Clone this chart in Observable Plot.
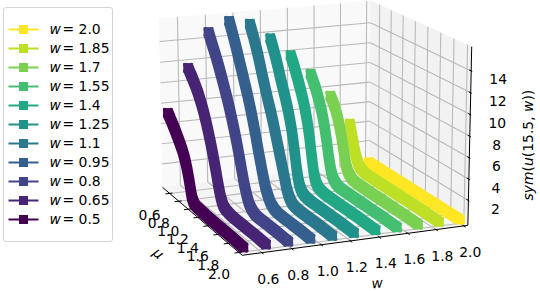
<!DOCTYPE html>
<html><head><meta charset="utf-8">
<script src="https://cdn.jsdelivr.net/npm/d3@7"></script>
<script src="https://cdn.jsdelivr.net/npm/@observablehq/plot@0.6"></script>
<style>
html,body{margin:0;padding:0;background:#fff;overflow:hidden}
#wrap{position:relative;width:540px;height:291px}
#chart{position:absolute;left:0;top:0}
#legend{position:absolute;left:3px;top:7px;width:108px;height:233px;border:1px solid #d5d5d5;border-radius:3px;background:#fff}
svg{display:block;font-family:"DejaVu Sans"}
</style></head><body>
<div id="wrap"><div id="chart"></div><div id="legend"></div></div>
<script>
const uValues=[0.5,0.55,0.6,0.65,0.7,0.75,0.8,0.85,0.9,0.95,1.0,1.05,1.1,1.15,1.2,1.25,1.3,1.4,1.6,1.8,2.0];
const wValues=[2.0,1.85,1.7,1.55,1.4,1.25,1.1,0.95,0.8,0.65,0.5];
const wLabels=["2.0","1.85","1.7","1.55","1.4","1.25","1.1","0.95","0.8","0.65","0.5"];
const colors=["#fde725","#bddf26","#7ad151","#44bf70","#22a884","#21918c","#2a788e","#355f8d","#414487","#482475","#440154"];
const z200=[0,0,0,0,0,0,0,0,0,0,0,0,0,0,0,0,0,0,0,0,0];
const z185=[4.2,2.9,1.6,0.75,0.35,0.2,0.12,0.1,0.1,0.1,0.1,0.1,0.1,0.1,0.1,0.1,0.1,0.1,0.1,0.1,0.05];
const z170=[7.25,6.75,6.1,5.2,4.0,2.5,1.1,0.5,0.25,0.15,0.1,0.1,0.1,0.1,0.1,0.1,0.1,0.1,0.1,0.1,0.05];
const z155=[9.65,9.05,8.4,7.6,6.7,5.5,3.9,2.1,0.9,0.4,0.2,0.12,0.1,0.1,0.1,0.1,0.1,0.1,0.1,0.1,0.05];
const z140=[11.7,11.05,10.3,9.5,8.65,7.7,6.5,4.9,2.8,1.1,0.45,0.22,0.15,0.1,0.1,0.1,0.1,0.1,0.1,0.1,0.05];
const z125=[13.55,12.8,12.0,11.1,10.1,9.2,8.25,7.2,5.9,4.2,2.2,0.9,0.4,0.2,0.15,0.1,0.1,0.1,0.1,0.1,0.05];
const z110=[15.15,14.4,13.6,12.7,11.7,10.65,9.65,8.7,7.8,6.8,5.7,4.6,3.5,2.4,1.3,0.65,0.3,0.12,0.1,0.1,0.05];
const z095=[15.6,14.85,14.05,13.2,12.3,11.4,10.5,9.6,8.6,7.5,6.3,5.0,3.8,2.6,1.6,0.95,0.5,0.15,0.1,0.1,0.05];
const z080=[14.7,14.05,13.4,12.75,12.05,11.3,10.5,9.7,8.85,7.9,6.9,5.8,4.6,3.3,2.1,1.2,0.6,0.15,0.1,0.1,0.05];
const z065=[11.4,11.0,10.6,10.15,9.65,9.05,8.4,7.6,6.7,5.7,4.6,3.4,2.1,1.05,0.45,0.25,0.18,0.1,0.1,0.1,0.05];
const z050=[7.2,6.85,6.45,6.05,5.6,5.15,4.65,4.0,3.1,1.9,0.65,0.25,0.18,0.15,0.15,0.12,0.1,0.1,0.1,0.1,0.05];
const zSeries=[z200,z185,z170,z155,z140,z125,z110,z095,z080,z065,z050];
const uTicks=[0.6,0.8,1.0,1.2,1.4,1.6,1.8,2.0];
const wTicks=[0.6,0.8,1.0,1.2,1.4,1.6,1.8,2.0];
const zTicks=[2,4,6,8,10,12,14];
const uLim=[0.44,2.06], wLim=[0.47,2.03], zLim=[-0.35,16.2];
const elev=15, azim=-22.5, dist=10, zoomK=1985, cx=310, cy=119.5;
const W=540,H=291;

const ea=elev*Math.PI/180, aa=azim*Math.PI/180;
const box=[1.19,1.19,0.905];
const vw=[Math.cos(ea)*Math.cos(aa),Math.cos(ea)*Math.sin(aa),Math.sin(ea)];
const vu=[-Math.sin(aa),Math.cos(aa),0];
const vv=[-Math.sin(ea)*Math.cos(aa),-Math.sin(ea)*Math.sin(aa),Math.cos(ea)];
const dot3=(a,b)=>a[0]*b[0]+a[1]*b[1]+a[2]*b[2];
function project(u,w,z){
  const p=[(u-uLim[0])/(uLim[1]-uLim[0])*box[0]-box[0]/2,
           (w-wLim[0])/(wLim[1]-wLim[0])*box[1]-box[1]/2,
           (z-zLim[0])/(zLim[1]-zLim[0])*box[2]-box[2]/2];
  const depth=dist-dot3(p,vw);
  return [dot3(p,vu)/depth,dot3(p,vv)/depth];
}
const PX=d=>project(d[0],d[1],d[2])[0], PY=d=>project(d[0],d[1],d[2])[1];
const seg=(a,b)=>({a,b});
const [u0,u1]=uLim,[w0,w1]=wLim,[z0,z1]=zLim;

const panes=[
 {fill:"#f9f9f9",pts:[[u0,w0,z0],[u0,w1,z0],[u0,w1,z1],[u0,w0,z1]]},
 {fill:"#f2f2f2",pts:[[u0,w1,z0],[u1,w1,z0],[u1,w1,z1],[u0,w1,z1]]},
 {fill:"#f5f5f5",pts:[[u0,w0,z0],[u1,w0,z0],[u1,w1,z0],[u0,w1,z0]]}
];
const grid=[
 ...wTicks.map(w=>seg([u0,w,z0],[u0,w,z1])),
 ...wTicks.map(w=>seg([u0,w,z0],[u1,w,z0])),
 ...uTicks.map(u=>seg([u,w0,z0],[u,w1,z0])),
 ...uTicks.map(u=>seg([u,w1,z0],[u,w1,z1])),
 ...zTicks.map(z=>seg([u0,w0,z],[u0,w1,z])),
 ...zTicks.map(z=>seg([u0,w1,z],[u1,w1,z]))
];
const axes=[seg([u0,w0,z0],[u1,w0,z0]),seg([u1,w0,z0],[u1,w1,z0]),seg([u1,w1,z0],[u1,w1,z1])];
const tickMarks=[
 ...uTicks.map(u=>seg([u,w0+0.02,z0],[u,w0-0.03,z0])),
 ...wTicks.map(w=>seg([u1-0.02,w,z0],[u1+0.03,w,z0])),
 ...zTicks.map(z=>seg([u1-0.03,w1,z],[u1+0.015,w1,z]))
];
const link=(data,o)=>Plot.link(data,{x1:d=>PX(d.a),y1:d=>PY(d.a),x2:d=>PX(d.b),y2:d=>PY(d.b),...o});
const offsets=[[0,0,6.6],[-3,-3,4],[3,-3,4],[-3,3,4],[3,3,4]];
const ribbons=wValues.flatMap((w,i)=>{
  const rows=uValues.map((u,j)=>[u,w,zSeries[i][j]]);
  return [
    ...offsets.map(([dx,dy,sw])=>Plot.line(rows,{x:PX,y:PY,stroke:colors[i],strokeWidth:sw,dx,dy,curve:"catmull-rom",strokeLinecap:"round",strokeLinejoin:"round"})),
    Plot.dot([rows[0],rows[rows.length-1]],{x:PX,y:PY,symbol:"square",r:5.4,fill:colors[i],stroke:"none"})
  ];
});
const zAt=z=>[u1,w1,z], uAt=u=>[u,w0,z0], wAt=w=>[u1,w,z0];
const tl=(ticks,fn,dx,dy)=>Plot.text(ticks,{x:d=>PX(fn(d)),y:d=>PY(fn(d)),text:d=>fn===zAt?String(d):d.toFixed(1),dx,dy,fontSize:13.9,fill:"#000",textAnchor:"middle"});
const zLabel="sym(u(15.5, w))";
const chart=Plot.plot({
  width:W,height:H,margin:0,
  x:{axis:null,domain:[(0-cx)/zoomK,(W-cx)/zoomK],range:[0,W]},
  y:{axis:null,domain:[cy/zoomK,(cy-H)/zoomK],range:[0,H]},
  style:{background:"transparent",fontFamily:"DejaVu Sans"},
  marks:[
    ...panes.map(p=>Plot.line([...p.pts,p.pts[0]],{x:PX,y:PY,fill:p.fill,stroke:p.fill,strokeWidth:0.5})),
    link(grid,{stroke:"#b9b9b9",strokeWidth:1.1}),
    link(axes,{stroke:"#000",strokeWidth:1}),
    link(tickMarks,{stroke:"#000",strokeWidth:1}),
    ...ribbons,
    tl(uTicks,uAt,-20,22.5),
    tl(wTicks,wAt,6.5,26.5),
    tl(zTicks,zAt,27,9),
    Plot.text(["μ"],{x:()=>PX([(u0+u1)/2,w0,z0]),y:()=>PY([(u0+u1)/2,w0,z0]),dx:-42,dy:34,rotate:41,fontSize:13.9,fontStyle:"italic",fill:"#000"}),
    Plot.text(["w"],{x:()=>PX([u1,(w0+w1)/2,z0]),y:()=>PY([u1,(w0+w1)/2,z0]),dx:19.5,dy:43.5,rotate:-6,fontSize:13.9,fontStyle:"italic",fill:"#000"}),
    Plot.text([zLabel],{x:()=>PX([u1,w1,(z0+z1)/2]),y:()=>PY([u1,w1,(z0+z1)/2]),dx:59,dy:8,rotate:-90,fontSize:13.9,fill:"#000"})
  ]
});
d3.select(chart).selectAll("text").filter(function(){return this.textContent===zLabel;})
  .html('<tspan font-style="italic">sym</tspan>(<tspan font-style="italic">u</tspan>(15.5, <tspan font-style="italic">w</tspan>))');
document.getElementById("chart").append(chart);

const legendRows=wLabels.map((label,i)=>({label,color:colors[i]}));
const legend=Plot.plot({
  width:108,height:233,marginTop:11,marginBottom:12,marginLeft:0,marginRight:0,
  x:{axis:null,domain:[0,108],range:[0,108]},
  y:{axis:null,type:"point",domain:wLabels},
  style:{background:"transparent",fontFamily:"DejaVu Sans"},
  marks:[
    Plot.link(legendRows,{x1:()=>4,x2:()=>34,y1:"label",y2:"label",stroke:"color",strokeWidth:2}),
    Plot.dot(legendRows,{x:()=>19,y:"label",symbol:"square",r:5.1,fill:"color",stroke:"none"}),
    Plot.text(legendRows,{x:()=>45,y:"label",text:()=>"w",fontStyle:"italic",fontSize:13.9,textAnchor:"start",fill:"#000"}),
    Plot.text(legendRows,{x:()=>58,y:"label",text:d=>"= "+d.label,fontSize:13.9,textAnchor:"start",fill:"#000"})
  ]
});
document.getElementById("legend").append(legend);
</script></body></html>
